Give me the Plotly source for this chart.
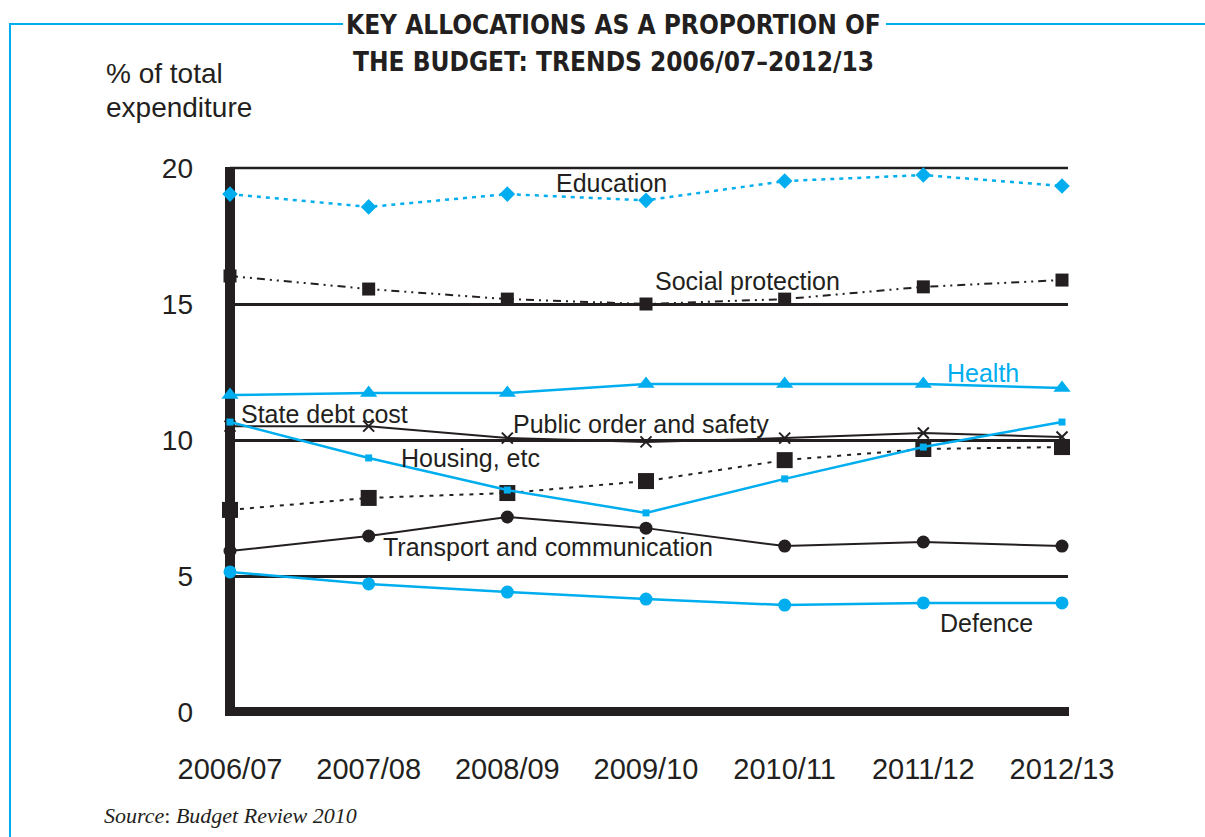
import plotly.graph_objects as go

# ---------------- data ----------------
years = ["2006/07", "2007/08", "2008/09", "2009/10", "2010/11", "2011/12", "2012/13"]

education = [19.04, 18.57, 19.04, 18.81, 19.52, 19.74, 19.34]
social_protection = [16.03, 15.55, 15.18, 15.00, 15.18, 15.63, 15.88]
health = [11.65, 11.73, 11.73, 12.06, 12.06, 12.06, 11.91]
public_order = [10.51, 10.51, 10.07, 9.93, 10.07, 10.26, 10.11]
state_debt = [7.43, 7.87, 8.05, 8.49, 9.26, 9.67, 9.74]
housing = [10.66, 9.34, 8.16, 7.32, 8.57, 9.74, 10.66]
transport = [5.92, 6.47, 7.17, 6.76, 6.10, 6.25, 6.10]
defence = [5.15, 4.71, 4.41, 4.15, 3.93, 4.01, 4.01]

y_ticks = [0, 5, 10, 15, 20]

# ---------------- styles ----------------
BLUE = "#00AEEF"
BLACK = "#231F20"
SANS = "Liberation Sans, Arial, Helvetica, sans-serif"

W, H = 1205, 837
L, R, T, B = 230, 1068, 168, 712  # plot area in pixels


def px(x):
    return (x - L) / (R - L)


def py(y):
    return (B - y) / (B - T)


fig = go.Figure()


def add(y, color, dash, width, symbol, size, name, mline=None):
    marker = dict(symbol=symbol, size=size, color=color)
    if mline:
        marker["line"] = mline
    fig.add_trace(go.Scatter(
        x=years, y=y, mode="lines+markers", name=name,
        line=dict(color=color, width=width, dash=dash),
        marker=marker, cliponaxis=False, showlegend=False,
    ))


add(defence, BLUE, "solid", 2.5, "circle", 13, "Defence")
add(transport, BLACK, "solid", 2, "circle", 13, "Transport and communication")
add(state_debt, BLACK, "4px,6px", 2, "square", 16, "State debt cost")
add(public_order, BLACK, "solid", 2, "x-thin", 11, "Public order and safety",
    mline=dict(color=BLACK, width=2))
add(housing, BLUE, "solid", 2.5, "square", 7, "Housing, etc")
add(health, BLUE, "solid", 2.5, "triangle-up", 15, "Health")
add(social_protection, BLACK, "8px,5px,2px,5px,2px,5px", 2, "square", 13, "Social protection")
add(education, BLUE, "4px,5px", 2.5, "diamond", 12, "Education")

# ---------------- series labels ----------------
labels = [
    ("Education", 2.748, 19.45, BLACK),
    ("Social protection", 3.735, 15.85, BLACK),
    ("Health", 5.43, 12.46, BLUE),
    ("State debt cost", 0.685, 10.96, BLACK),
    ("Public order and safety", 2.964, 10.59, BLACK),
    ("Housing, etc", 1.731, 9.34, BLACK),
    ("Transport and communication", 2.293, 6.07, BLACK),
    ("Defence", 5.459, 3.27, BLACK),
]
for text, lx, ly, c in labels:
    fig.add_annotation(x=lx, y=ly, xref="x", yref="y", text=text, showarrow=False,
                       font=dict(family=SANS, size=25, color=c),
                       xanchor="center", yanchor="middle")

# ---------------- title / axis title / source ----------------
TITLE_FONT = dict(family="Liberation Sans Narrow, Arial Narrow, DejaVu Sans Condensed, sans-serif",
                  size=26, color=BLACK, weight="bold")
fig.add_annotation(x=px(613), y=py(25), xref="paper", yref="paper",
                   text="<b>KEY ALLOCATIONS AS A PROPORTION OF</b>", showarrow=False,
                   font=TITLE_FONT, xanchor="center", yanchor="middle")
fig.add_annotation(x=px(613), y=py(62), xref="paper", yref="paper",
                   text="<b>THE BUDGET: TRENDS 2006/07\u20132012/13</b>", showarrow=False,
                   font=TITLE_FONT, xanchor="center", yanchor="middle")

fig.add_annotation(x=px(104), y=py(74), xref="paper", yref="paper",
                   text="% of total", showarrow=False,
                   font=dict(family=SANS, size=28, color=BLACK),
                   xanchor="left", yanchor="middle")
fig.add_annotation(x=px(104), y=py(107), xref="paper", yref="paper",
                   text="expenditure", showarrow=False,
                   font=dict(family=SANS, size=28, color=BLACK),
                   xanchor="left", yanchor="middle")

fig.add_annotation(x=px(102), y=py(815), xref="paper", yref="paper",
                   text="<i>Source</i>: <i>Budget Review 2010</i>", showarrow=False,
                   font=dict(family="Liberation Serif, Times New Roman, serif", size=22, color=BLACK),
                   xanchor="left", yanchor="middle")

# ---------------- frame shapes ----------------
shapes = [
    # blue box border
    dict(type="line", xref="paper", yref="paper", x0=px(10), x1=px(10), y0=py(24), y1=py(840),
         line=dict(color=BLUE, width=2)),
    dict(type="line", xref="paper", yref="paper", x0=px(9), x1=px(343), y0=py(24), y1=py(24),
         line=dict(color=BLUE, width=2)),
    dict(type="line", xref="paper", yref="paper", x0=px(886), x1=px(1206), y0=py(24), y1=py(24),
         line=dict(color=BLUE, width=2)),
    # top rule at the 20 level (plot top edge)
    dict(type="line", xref="paper", yref="paper", x0=0, x1=1, y0=1, y1=1,
         line=dict(color=BLACK, width=2.5), layer="below"),
    # thick axes
    dict(type="rect", xref="paper", yref="paper", x0=px(225), x1=px(235), y0=py(716), y1=py(167),
         fillcolor=BLACK, line=dict(width=0), layer="below"),
    dict(type="rect", xref="paper", yref="paper", x0=px(225), x1=px(1069), y0=py(716), y1=py(707),
         fillcolor=BLACK, line=dict(width=0), layer="below"),
]

fig.update_layout(
    width=W, height=H,
    margin=dict(l=L, r=W - R, t=T, b=H - B),
    paper_bgcolor="white", plot_bgcolor="white",
    shapes=shapes,
    xaxis=dict(
        type="category", range=[0, (R - L) / ((1062 - 230) / 6)],
        showgrid=False, zeroline=False, showline=False,
        ticks="", ticklabelstandoff=37,
        tickfont=dict(family=SANS, size=29, color=BLACK),
    ),
    yaxis=dict(
        range=[0, 20], tickvals=y_ticks, ticktext=[str(v) for v in y_ticks],
        showgrid=True, gridcolor=BLACK, gridwidth=2.5, zeroline=False, showline=False,
        ticks="", ticklabelstandoff=36,
        tickfont=dict(family=SANS, size=28, color=BLACK),
    ),
    showlegend=False,
)

fig.write_html("out.html", config={"displayModeBar": False},
               post_script="document.body.style.margin='0px';")
